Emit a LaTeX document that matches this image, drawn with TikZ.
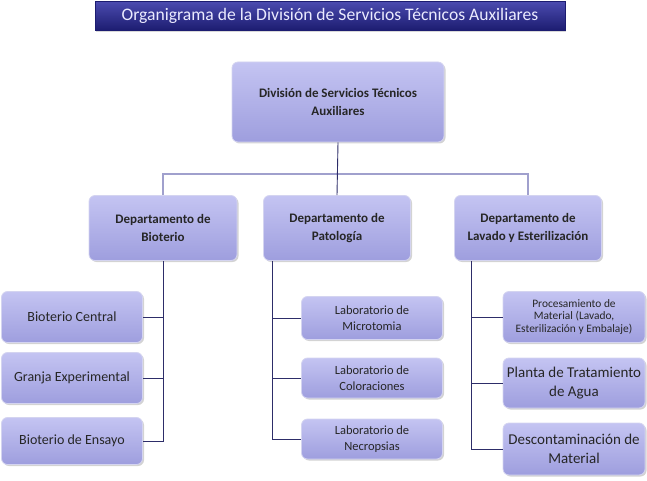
\documentclass[tikz,border=0pt]{standalone}
\usepackage{fontspec}
\setmainfont{Carlito}
\usepackage{xcolor}
\usepackage{tikz}
\usetikzlibrary{positioning,shadows}
\definecolor{boxtop}{RGB}{196,196,242}
\definecolor{boxbot}{RGB}{158,158,222}
\definecolor{boxline}{RGB}{212,212,240}
\definecolor{navy}{RGB}{45,45,105}
\definecolor{busline}{RGB}{160,160,205}
\definecolor{bantop}{RGB}{75,75,175}
\definecolor{banbot}{RGB}{28,28,112}
\tikzset{
  unit/.style    = {rectangle, rounded corners=6pt, draw=boxline, thick,
                    top color=boxtop, bottom color=boxbot,
                    drop shadow={shadow xshift=1.5pt, shadow yshift=-1.5pt, opacity=.35},
                    align=center, inner sep=0pt, text=black!85},
  head/.style    = {unit, font=\fontsize{13}{17.5}\selectfont\bfseries},
  sub/.style     = {unit, minimum width=141pt},
  banner/.style  = {rectangle, draw=banbot, top color=bantop, bottom color=banbot,
                    text=white!92!blue, font=\fontsize{17.6}{20}\selectfont,
                    drop shadow={shadow xshift=1pt, shadow yshift=-1.5pt, opacity=.3},
                    minimum width=470pt, minimum height=29pt, inner sep=0pt},
  conn/.style    = {draw=navy, line width=0.9pt},
  bus/.style     = {draw=busline, line width=1.6pt},
}
\newcommand{\subfont}[1]{\fontsize{#1}{1.25\dimexpr#1pt\relax}\selectfont}

\begin{document}
\begin{tikzpicture}[x=1pt,y=-1pt]
  \useasboundingbox (0,0) rectangle (647,481);
  % title
  \node[banner] (title) at (330,16) {Organigrama de la División de Servicios Técnicos Auxiliares};

  % direction and departments
  \node[head,minimum width=212pt,minimum height=80pt] (div) at (338,102) {División de Servicios Técnicos\\Auxiliares};
  \node[head,minimum width=148pt,minimum height=65pt] (bio) at (163,228) {Departamento de\\Bioterio};
  \node[head,minimum width=147pt,minimum height=65pt] (pat) at (337,228) {Departamento de\\Patología};
  \node[head,minimum width=147pt,minimum height=65pt] (lav) at (528,228) {Departamento de\\Lavado y Esterilización};

  % units
  \node[sub,minimum height=51pt,font=\subfont{14}] (cen) at (72,317) {Bioterio Central};
  \node[sub,minimum height=51pt,font=\subfont{14}] (gra) at (72,378) {Granja Experimental};
  \node[sub,minimum height=47pt,font=\subfont{14}] (ens) at (72,441) {Bioterio de Ensayo};
  \node[sub,minimum height=43pt,font=\subfont{12.5}] (mic) at (372,318) {Laboratorio de\\Microtomia};
  \node[sub,minimum height=40pt,font=\subfont{12.5}] (col) at (372,378) {Laboratorio de\\Coloraciones};
  \node[sub,minimum height=40pt,font=\subfont{12.5}] (nec) at (372,439) {Laboratorio de\\Necropsias};
  \node[sub,minimum width=142pt,minimum height=51pt,font=\fontsize{11.4}{12.5}\selectfont] (pro) at (574,317) {Procesamiento de\\Material (Lavado,\\Esterilización y Embalaje)};
  \node[sub,minimum width=142pt,minimum height=50pt,font=\subfont{15}] (pla) at (574,383) {Planta de Tratamiento\\de Agua};
  \node[sub,minimum width=142pt,minimum height=52pt,font=\subfont{15}] (des) at (574,449) {Descontaminación de\\Material};

  % connectors
  \coordinate (busy) at (0,174);
  \draw[bus] (bio.north) |- (lav.north |- busy) -- (lav.north);
  \draw[conn] (div.south) -- (pat.north);
  \coordinate (bioline) at (bio.south);
  \draw[conn] (bioline) |- (ens.east);
  \draw[conn] (bioline |- cen.east) -- (cen.east);
  \draw[conn] (bioline |- gra.east) -- (gra.east);
  \coordinate (patline) at ([xshift=9pt]pat.south west);
  \draw[conn] (patline) |- (nec.west);
  \draw[conn] (patline |- mic.west) -- (mic.west);
  \draw[conn] (patline |- col.west) -- (col.west);
  \coordinate (lavline) at ([xshift=17pt]lav.south west);
  \draw[conn] (lavline) |- (des.west);
  \draw[conn] (lavline |- pro.west) -- (pro.west);
  \draw[conn] (lavline |- pla.west) -- (pla.west);
\end{tikzpicture}
\end{document}
